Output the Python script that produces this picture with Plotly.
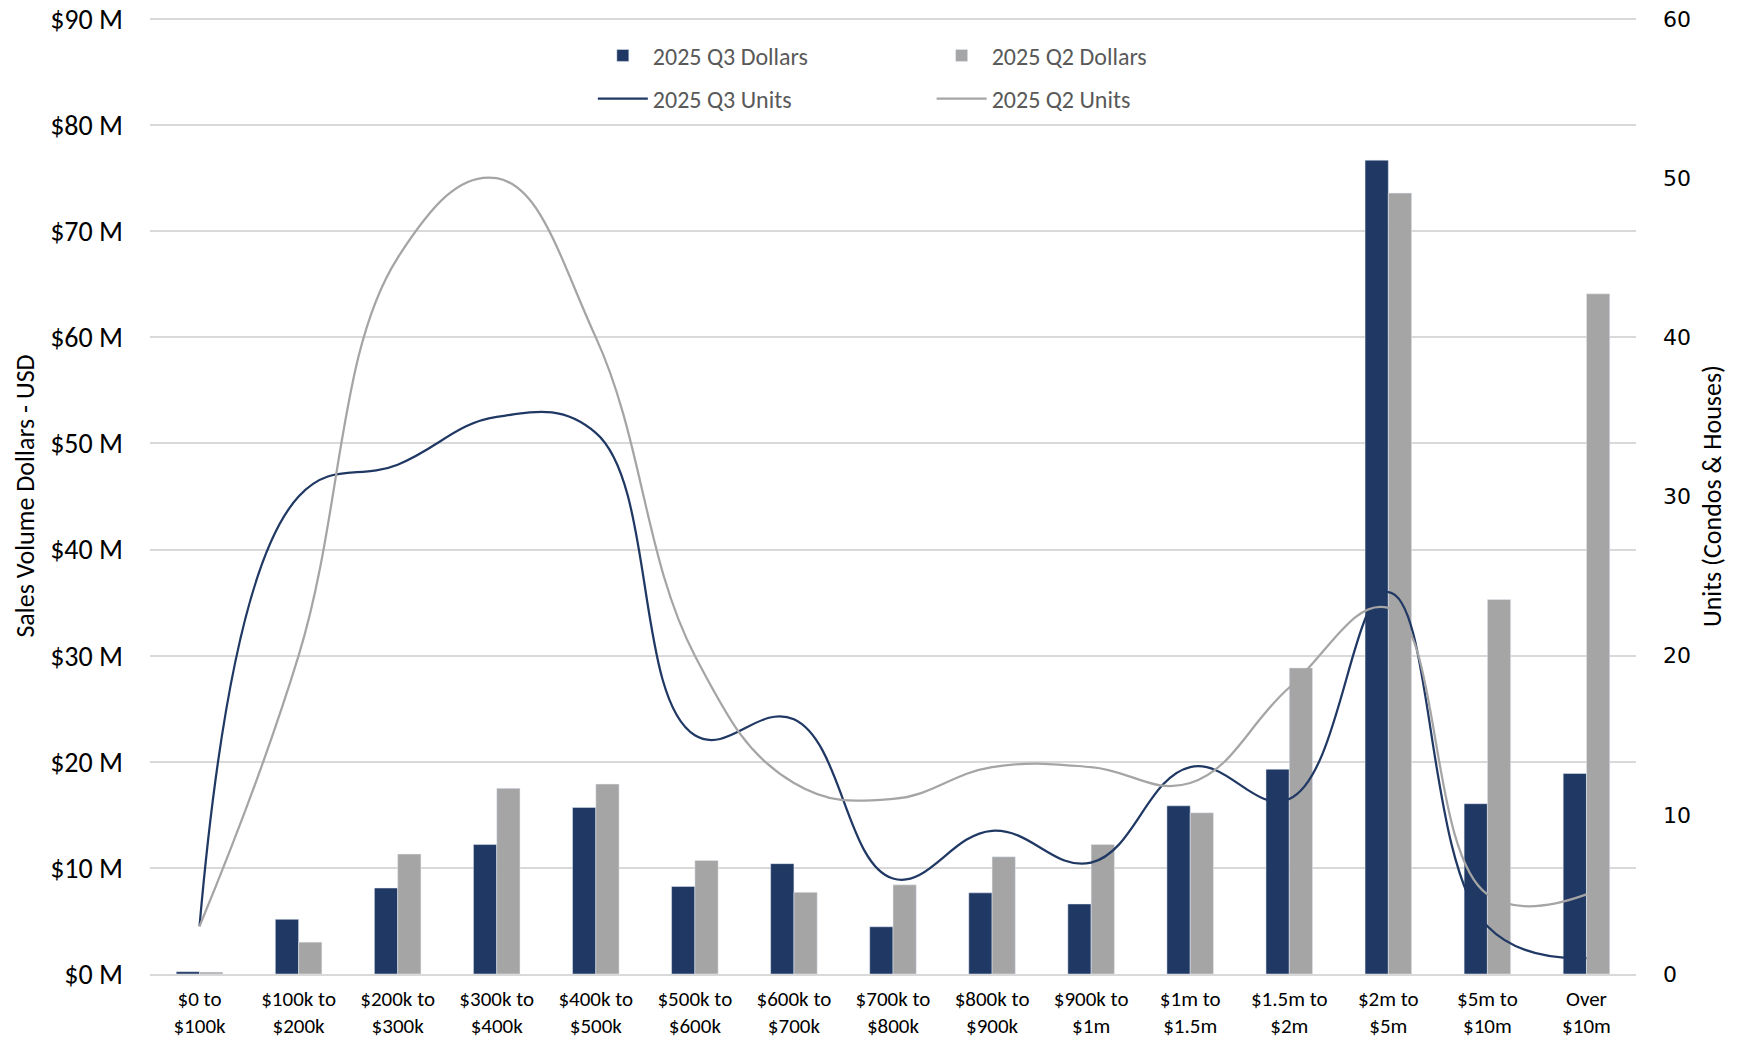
import plotly.graph_objects as go

categories = ["$0 to<br>$100k", "$100k to<br>$200k", "$200k to<br>$300k", "$300k to<br>$400k",
              "$400k to<br>$500k", "$500k to<br>$600k", "$600k to<br>$700k", "$700k to<br>$800k",
              "$800k to<br>$900k", "$900k to<br>$1m", "$1m to<br>$1.5m", "$1.5m to<br>$2m",
              "$2m to<br>$5m", "$5m to<br>$10m", "Over<br>$10m"]

q3_dollars_m = [0.22, 5.15, 8.1, 12.2, 15.7, 8.25, 10.4, 4.45, 7.65, 6.6, 15.85, 19.3, 76.7, 16.05, 18.9]
q2_dollars_m = [0.18, 3.0, 11.3, 17.5, 17.9, 10.7, 7.7, 8.4, 11.05, 12.2, 15.2, 28.85, 73.6, 35.3, 64.1]
q3_units = [3, 30, 32, 35, 34, 15, 16, 6, 9, 7, 13, 11, 24, 3, 1]
q2_units = [3, 20, 45, 50, 40, 20, 12, 11, 13, 13, 12, 18, 23, 5, 5]

left_tick_vals_m = [0, 10, 20, 30, 40, 50, 60, 70, 80, 90]
left_tick_text = ["$0 M", "$10 M", "$20 M", "$30 M", "$40 M", "$50 M", "$60 M", "$70 M", "$80 M", "$90 M"]
right_tick_vals = [0, 10, 20, 30, 40, 50, 60]

NAVY = "#203864"
GRAY = "#A5A5A5"
GRID = "#D9D9D9"
FONT = "Carlito, Lato, sans-serif"

# small headroom so the top ($90 M) gridline is drawn inside the plot area
LEFT_MAX = 90.1e6
RIGHT_MAX = 60 * 90.1 / 90

fig = go.Figure()
fig.add_trace(go.Bar(x=categories, y=[v * 1e6 for v in q3_dollars_m], name="2025 Q3 Dollars",
                     marker=dict(color=NAVY), legend="legend", legendgroup="a"))
fig.add_trace(go.Bar(x=categories, y=[v * 1e6 for v in q2_dollars_m], name="2025 Q2 Dollars",
                     marker=dict(color=GRAY), legend="legend2", legendgroup="b"))
fig.add_trace(go.Scatter(x=categories, y=q3_units, name="2025 Q3 Units", yaxis="y2", mode="lines",
                         line=dict(color=NAVY, width=2.25, shape="spline", smoothing=1.2),
                         legend="legend", legendgroup="c"))
fig.add_trace(go.Scatter(x=categories, y=q2_units, name="2025 Q2 Units", yaxis="y2", mode="lines",
                         line=dict(color=GRAY, width=2.25, shape="spline", smoothing=1.2),
                         legend="legend2", legendgroup="d"))

legend_common = dict(orientation="v", bgcolor="rgba(0,0,0,0)", borderwidth=0,
                     font=dict(family=FONT, size=24, color="#595959"),
                     itemwidth=50, tracegroupgap=9, xanchor="left", yanchor="top", y=0.984,
                     itemclick=False, itemdoubleclick=False)

fig.update_layout(
    width=1743, height=1039,
    margin=dict(l=150, r=107, t=18, b=65, autoexpand=False),
    paper_bgcolor="white", plot_bgcolor="white",
    barmode="group", bargap=0.53, bargroupgap=0,
    font=dict(family=FONT, color="#000000"),
    showlegend=True,
    legend=dict(x=0.298, **legend_common),
    legend2=dict(x=0.526, **legend_common),
    xaxis=dict(type="category", showgrid=False, showline=True, linecolor=GRID, linewidth=1.5,
               ticks="", tickfont=dict(family=FONT, size=21, color="#000000"),
               ticklabelstandoff=5, fixedrange=True),
    yaxis=dict(range=[0, LEFT_MAX], tickvals=[v * 1e6 for v in left_tick_vals_m], ticktext=left_tick_text,
               showgrid=True, gridcolor=GRID, gridwidth=1.5, zeroline=False, showline=False,
               ticks="", tickfont=dict(family=FONT, size=28, color="#000000"),
               ticklabelstandoff=26,
               title=dict(text="Sales Volume Dollars - USD", font=dict(family=FONT, size=26, color="#000000"),
                          standoff=8)),
    yaxis2=dict(range=[0, RIGHT_MAX], tickvals=right_tick_vals, overlaying="y", side="right",
                showgrid=False, zeroline=False, showline=False, ticks="",
                tickfont=dict(family="DejaVu Sans", size=22, color="#000000"),
                ticklabelstandoff=26,
                title=dict(text="Units (Condos & Houses)", font=dict(family=FONT, size=26, color="#000000"),
                           standoff=12)),
)

fig.write_html("out.html")
